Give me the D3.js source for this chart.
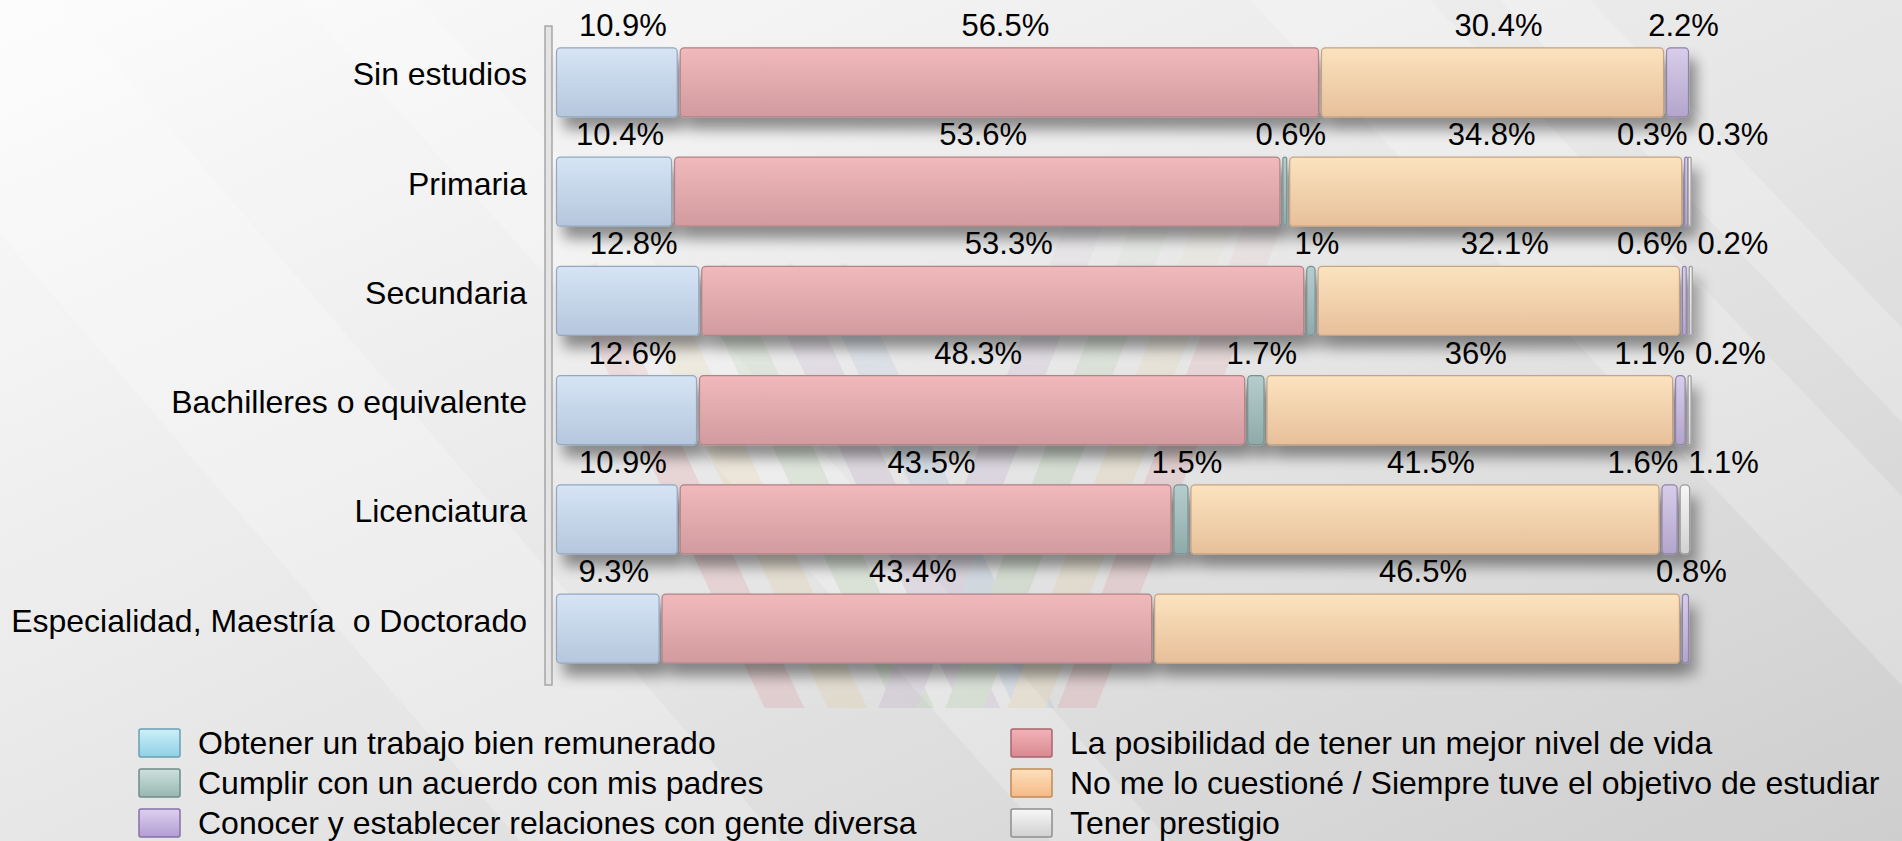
<!DOCTYPE html>
<html>
<head>
<meta charset="utf-8">
<style>
  body { margin: 0; background: #e2e2e2; overflow: hidden; }
  svg { display: block; font-family: Arial, 'Liberation Sans', sans-serif; }
  .cat { font-size: 32px; fill: #000; white-space: pre; }
  .pct { font-size: 31px; fill: #000; }
  .legend text { font-size: 32px; fill: #000; }
</style>
</head>
<body>
<svg width="1902" height="841"></svg>

<script src="https://d3js.org/d3.v7.min.js"></script>
<script>
// ---- data (percent of each education level) ----
const categories = ["Sin estudios", "Primaria", "Secundaria", "Bachilleres o equivalente",
    "Licenciatura", "Especialidad, Maestría  o Doctorado"];

const seriesNames = ["Obtener un trabajo bien remunerado",
    "La posibilidad de tener un mejor nivel de vida",
    "Cumplir con un acuerdo con mis padres",
    "No me lo cuestioné / Siempre tuve el objetivo de estudiar",
    "Conocer y establecer relaciones con gente diversa",
    "Tener prestigio"];

const trabajo     = [10.9, 10.4, 12.8, 12.6, 10.9, 9.3];
const nivelVida   = [56.5, 53.6, 53.3, 48.3, 43.5, 43.4];
const padres      = [0, 0.6, 1, 1.7, 1.5, 0];
const noCuestione = [30.4, 34.8, 32.1, 36, 41.5, 46.5];
const relaciones  = [2.2, 0.3, 0.6, 1.1, 1.6, 0.8];
const prestigio   = [0, 0.3, 0.2, 0.2, 1.1, 0];

const seriesValues = [trabajo, nivelVida, padres, noCuestione, relaciones, prestigio];

// bar colours: [top, bottom, edge]
const barColors = [
    ["#d6e4f5", "#b5c7dd", "#94a7bf"],
    ["#f1b9bb", "#d19b9f", "#b08387"],
    ["#b6cdcd", "#8faaaa", "#789191"],
    ["#fbe3bf", "#e7c09a", "#c6a383"],
    ["#d8cdea", "#b3a5cb", "#9182a9"],
    ["#f6f6f6", "#d2d2d2", "#999999"]
];
// legend swatches are a bit stronger
const swatchColors = [
    ["#cdeff8", "#8fd0e6", "#6a9fb2"],
    ["#f2b3b8", "#d98890", "#a8666c"],
    ["#cde0dc", "#97b7b1", "#6f8c86"],
    ["#fde0bd", "#f5b985", "#c08a5a"],
    ["#ddd0f0", "#b29dd3", "#8472a5"],
    ["#f7f7f7", "#d0d0d0", "#8f8f8f"]
];

let width = 1902;
let height = 841;
let svg = d3.select("svg");
let defs = svg.append("defs");

// ---- background ----
let bg = defs.append("linearGradient").attr("id", "bg")
    .attr("x1", 0).attr("y1", 0).attr("x2", 1).attr("y2", 1);
bg.append("stop").attr("offset", "0%").attr("stop-color", "#fcfcfc");
bg.append("stop").attr("offset", "55%").attr("stop-color", "#e5e5e5");
bg.append("stop").attr("offset", "100%").attr("stop-color", "#cecece");

svg.append("rect").attr("width", width).attr("height", height).attr("fill", "url(#bg)");

// soft diagonal streaks
let streaks = [[-200, 520, 260], [300, 1050, 120], [1250, 2050, 180], [1500, 2300, 90]];
svg.append("g").selectAll("path")
    .data(streaks)
    .join("path")
    .attr("d", d => `M${d[0]},0 L${d[0] + d[2]},0 L${d[1] + d[2]},${height} L${d[1]},${height} Z`)
    .attr("fill", "#ffffff")
    .attr("opacity", 0.22);

// faint watermark stripes behind the plot
let fade = defs.append("linearGradient").attr("id", "fade")
    .attr("x1", 0).attr("y1", 0).attr("x2", 0).attr("y2", 1);
fade.append("stop").attr("offset", "0%").attr("stop-color", "#fff").attr("stop-opacity", 0);
fade.append("stop").attr("offset", "45%").attr("stop-color", "#fff").attr("stop-opacity", 1);
fade.append("stop").attr("offset", "100%").attr("stop-color", "#fff").attr("stop-opacity", 1);
defs.append("mask").attr("id", "wmask")
    .append("rect").attr("x", 560).attr("y", 160).attr("width", 760).attr("height", 548)
    .attr("fill", "url(#fade)");

let wm = svg.append("g").attr("mask", "url(#wmask)").attr("opacity", 0.11);
let backStripes = [["#d83a4a", 780], ["#e0b040", 843], ["#60a848", 910], ["#8a5aa8", 976], ["#4a88c8", 1030]];
wm.selectAll(".back").data(backStripes).join("line")
    .attr("x1", d => d[1] - 200).attr("y1", 270)
    .attr("x2", d => d[1] + 10).attr("y2", 720)
    .attr("stroke", d => d[0]).attr("stroke-width", 36);
let fwdStripes = [["#8a5aa8", 1083], ["#60a848", 1150], ["#e0b040", 1212], ["#d83a4a", 1262]];
wm.selectAll(".fwd").data(fwdStripes).join("line")
    .attr("x1", d => d[1] + 30).attr("y1", 150)
    .attr("x2", d => d[1] - 190).attr("y2", 720)
    .attr("stroke", d => d[0]).attr("stroke-width", 36);

// ---- scales ----
let x = d3.scaleLinear().domain([0, 100]).range([555, 1690]);
let y = d3.scaleBand().domain(categories).range([26, 685])
    .paddingInner(0.368).paddingOuter(0.2);

// gradients
barColors.forEach((c, k) => {
    let g = defs.append("linearGradient").attr("id", "bar" + k)
        .attr("x1", 0).attr("y1", 0).attr("x2", 0).attr("y2", 1);
    g.append("stop").attr("offset", "0%").attr("stop-color", c[0]);
    g.append("stop").attr("offset", "100%").attr("stop-color", c[1]);
});
swatchColors.forEach((c, k) => {
    let g = defs.append("linearGradient").attr("id", "sw" + k)
        .attr("x1", 0).attr("y1", 0).attr("x2", 0).attr("y2", 1);
    g.append("stop").attr("offset", "0%").attr("stop-color", c[0]);
    g.append("stop").attr("offset", "100%").attr("stop-color", c[1]);
});

// drop shadow for the bars
let f = defs.append("filter").attr("id", "shadow")
    .attr("x", "-5%").attr("y", "-40%").attr("width", "115%").attr("height", "200%");
f.append("feGaussianBlur").attr("in", "SourceAlpha").attr("stdDeviation", 7);
f.append("feOffset").attr("dx", 7).attr("dy", 12).attr("result", "off");
f.append("feComponentTransfer").append("feFuncA").attr("type", "linear").attr("slope", 0.42);
let fm = f.append("feMerge");
fm.append("feMergeNode");
fm.append("feMergeNode").attr("in", "SourceGraphic");

// ---- axis (thin 3d wall) ----
svg.append("rect")
    .attr("x", 545).attr("y", 26).attr("width", 7).attr("height", 659)
    .attr("fill", "#e4e4e4").attr("stroke", "#9c9c9c").attr("stroke-width", 1.3);

svg.append("g").selectAll("text")
    .data(categories)
    .join("text")
    .attr("class", "cat")
    .attr("x", 527)
    .attr("y", d => y(d) + y.bandwidth() / 2 + 3)
    .attr("text-anchor", "end")
    .text(d => d);

// ---- stacked bars ----
let rows = categories.map((c, i) => {
    let r = { cat: c };
    seriesValues.forEach((s, k) => { r[k] = s[i]; });
    return r;
});
let stacked = d3.stack().keys(d3.range(seriesValues.length))(rows);

let rowGroups = svg.append("g").selectAll("g")
    .data(categories)
    .join("g")
    .attr("filter", "url(#shadow)");

rowGroups.each(function (cat, i) {
    let segs = stacked.map((layer, k) => ({ k: k, x0: layer[i][0], x1: layer[i][1], v: seriesValues[k][i] }))
        .filter(d => d.v > 0);
    d3.select(this).selectAll("rect")
        .data(segs)
        .join("rect")
        .attr("x", d => x(d.x0) + 1.5)
        .attr("y", y(cat))
        .attr("width", d => Math.max(x(d.x1) - x(d.x0) - 3, 3))
        .attr("height", y.bandwidth())
        .attr("rx", d => Math.min(4, Math.max(x(d.x1) - x(d.x0) - 3, 3) / 2))
        .attr("fill", d => `url(#bar${d.k})`)
        .attr("stroke", d => barColors[d.k][2])
        .attr("stroke-width", 1.2);
});

// ---- value labels, pushed apart where they would collide ----
let labelLayer = svg.append("g");
categories.forEach((cat, i) => {
    let segs = stacked.map((layer, k) => ({ x0: layer[i][0], x1: layer[i][1], v: seriesValues[k][i] }))
        .filter(d => d.v > 0);
    let texts = labelLayer.selectAll(null)
        .data(segs)
        .join("text")
        .attr("class", "pct")
        .attr("text-anchor", "middle")
        .attr("y", y(cat) - 12)
        .text(d => d.v + "%");
    let pos = segs.map(d => x((d.x0 + d.x1) / 2) + 6);
    let w = texts.nodes().map(n => n.getComputedTextLength());
    for (let it = 0; it < 60; it++) {
        for (let j = 0; j < pos.length - 1; j++) {
            let need = (w[j] + w[j + 1]) / 2 + 10;
            let gap = pos[j + 1] - pos[j];
            if (gap < need) {
                let push = (need - gap) / 2;
                pos[j] -= push;
                pos[j + 1] += push;
            }
        }
    }
    texts.attr("x", (d, j) => pos[j]);
});

// ---- legend ----
let legend = svg.append("g").attr("class", "legend");
let colX = [139, 1011];
let rowY = d3.scaleLinear().domain([0, 2]).range([743, 823]);

let items = legend.selectAll("g")
    .data(seriesNames)
    .join("g")
    .attr("transform", (d, k) => `translate(${colX[k % 2]},${rowY(Math.floor(k / 2))})`);

items.append("rect")
    .attr("x", 0).attr("y", -14)
    .attr("width", 41).attr("height", 28)
    .attr("rx", 2)
    .attr("fill", (d, k) => `url(#sw${k})`)
    .attr("stroke", (d, k) => swatchColors[k][2])
    .attr("stroke-width", 1.5);

items.append("text")
    .attr("x", 59)
    .attr("y", 11)
    .text(d => d);
</script>
</body>
</html>
